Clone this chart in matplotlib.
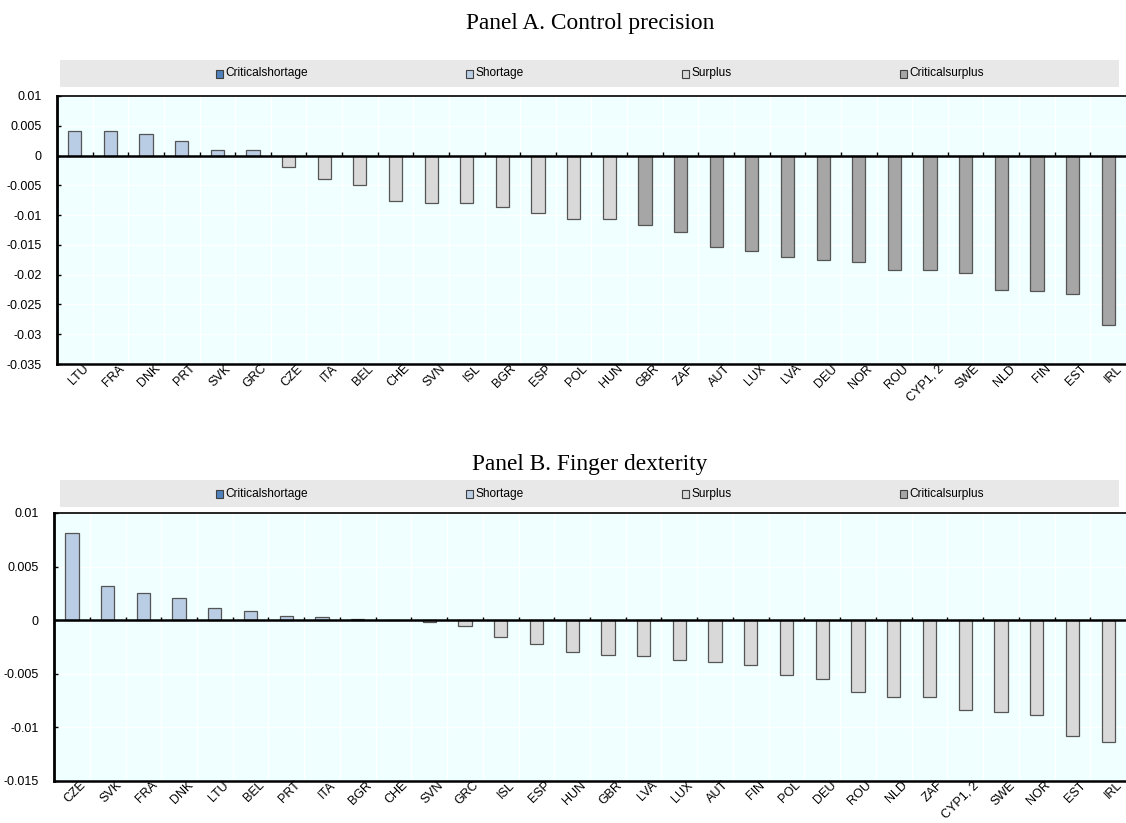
import matplotlib.pyplot as plt
import numpy as np
from matplotlib.patches import Rectangle
from matplotlib.ticker import FuncFormatter, MultipleLocator
from matplotlib.transforms import ScaledTranslation

plt.rcParams["font.family"] = ["Liberation Sans", "DejaVu Sans"]

# Panel A: control precision
countries_a = ["LTU", "FRA", "DNK", "PRT", "SVK", "GRC", "CZE", "ITA", "BEL", "CHE",
               "SVN", "ISL", "BGR", "ESP", "POL", "HUN", "GBR", "ZAF", "AUT", "LUX",
               "LVA", "DEU", "NOR", "ROU", "CYP1, 2", "SWE", "NLD", "FIN", "EST", "IRL"]
values_a = [0.0042, 0.0042, 0.0036, 0.0025, 0.0010, 0.0010, -0.0020, -0.0040, -0.0049, -0.0076,
            -0.0079, -0.0080, -0.0087, -0.0097, -0.0106, -0.0106, -0.0116, -0.0129, -0.0153, -0.0161,
            -0.0170, -0.0175, -0.0178, -0.0193, -0.0193, -0.0198, -0.0225, -0.0228, -0.0233, -0.0285]
status_a = ["Shortage"] * 6 + ["Surplus"] * 10 + ["Criticalsurplus"] * 14

# Panel B: finger dexterity
countries_b = ["CZE", "SVK", "FRA", "DNK", "LTU", "BEL", "PRT", "ITA", "BGR", "CHE",
               "SVN", "GRC", "ISL", "ESP", "HUN", "GBR", "LVA", "LUX", "AUT", "FIN",
               "POL", "DEU", "ROU", "NLD", "ZAF", "CYP1, 2", "SWE", "NOR", "EST", "IRL"]
values_b = [0.0081, 0.0032, 0.0025, 0.0021, 0.0011, 0.0008, 0.0004, 0.0003, 0.0001, 0.0,
            -0.0002, -0.0006, -0.0016, -0.0022, -0.0030, -0.0033, -0.0034, -0.0037, -0.0039, -0.0042,
            -0.0051, -0.0055, -0.0067, -0.0072, -0.0072, -0.0084, -0.0086, -0.0089, -0.0108, -0.0114]
status_b = ["Shortage"] * 9 + ["Surplus"] * 21

legend_labels = ["Criticalshortage", "Shortage", "Surplus", "Criticalsurplus"]
colors = {
    "Criticalshortage": "#4F81BD",
    "Shortage": "#B9CDE5",
    "Surplus": "#D9D9D9",
    "Criticalsurplus": "#A6A6A6",
}
BG = "#F0FFFF"


def draw_legend_band(fig, rect):
    band = fig.add_axes(rect)
    band.set_facecolor("#E8E8E8")
    band.set_xlim(0, 1)
    band.set_ylim(0, 1)
    band.set_xticks([])
    band.set_yticks([])
    for s in band.spines.values():
        s.set_visible(False)
    for x, label in zip([0.147, 0.383, 0.587, 0.793], legend_labels):
        band.add_patch(Rectangle((x, 0.34), 0.0068, 0.30, facecolor=colors[label],
                                 edgecolor="#404040", linewidth=0.8))
        band.text(x + 0.0095, 0.5, label, fontsize=8.6, va="center", ha="left")


def draw_panel(fig, rect, title, title_y, countries, values, status, ylim):
    ax = fig.add_axes(rect)
    ax.set_facecolor(BG)
    x = np.arange(len(countries))
    ax.bar(x, values, width=0.37, color=[colors[s] for s in status],
           edgecolor="#555555", linewidth=0.9, zorder=3)
    ax.set_xlim(-0.5, len(countries) - 0.5)
    ax.set_ylim(*ylim)
    ax.yaxis.set_major_locator(MultipleLocator(0.005))
    ax.yaxis.set_major_formatter(FuncFormatter(lambda v, _: f"{round(v, 4):g}"))
    ax.tick_params(axis="y", direction="in", length=3, width=1, labelsize=9, pad=11)

    # white grid: horizontal at y ticks, vertical between categories
    for yv in np.arange(ylim[0], ylim[1] + 1e-9, 0.005):
        ax.axhline(yv, color="white", linewidth=1, zorder=1)
    bounds = np.arange(len(countries) + 1) - 0.5
    for b in bounds[1:-1]:
        ax.axvline(b, color="white", linewidth=1, zorder=1)

    ax.axhline(0, color="black", linewidth=1.8, zorder=4)
    tick_h = (ylim[1] - ylim[0]) * 0.012
    ax.vlines(bounds[1:-1], 0, tick_h, color="black", linewidth=1, zorder=4)

    ax.set_xticks(x)
    ax.set_xticklabels(countries, rotation=45, ha="right", va="center",
                       rotation_mode="anchor", fontsize=9)
    ax.tick_params(axis="x", length=0, pad=2)
    shift = ScaledTranslation(0.12, 0, fig.dpi_scale_trans)
    for lab in ax.get_xticklabels():
        lab.set_transform(lab.get_transform() + shift)

    ax.spines["left"].set_linewidth(2)
    ax.spines["bottom"].set_linewidth(1.8)
    ax.spines["top"].set_linewidth(1.2)
    ax.spines["right"].set_visible(False)

    fig.text(0.524, title_y, title,
             family=["Liberation Serif", "DejaVu Serif"], fontsize=16.8, ha="center", va="center")
    return ax


fig = plt.figure(figsize=(11.26, 8.23), dpi=100)

draw_legend_band(fig, [0.0533, 0.8943, 0.9405, 0.0328])
draw_panel(fig, [0.0506, 0.5577, 0.9494, 0.3257], "Panel A. Control precision", 0.972,
           countries_a, values_a, status_a, (-0.035, 0.01))

draw_legend_band(fig, [0.0533, 0.3839, 0.9405, 0.0328])
draw_panel(fig, [0.048, 0.0515, 0.952, 0.3252], "Panel B. Finger dexterity", 0.436,
           countries_b, values_b, status_b, (-0.015, 0.01))

fig.savefig("out.png", dpi=100)
